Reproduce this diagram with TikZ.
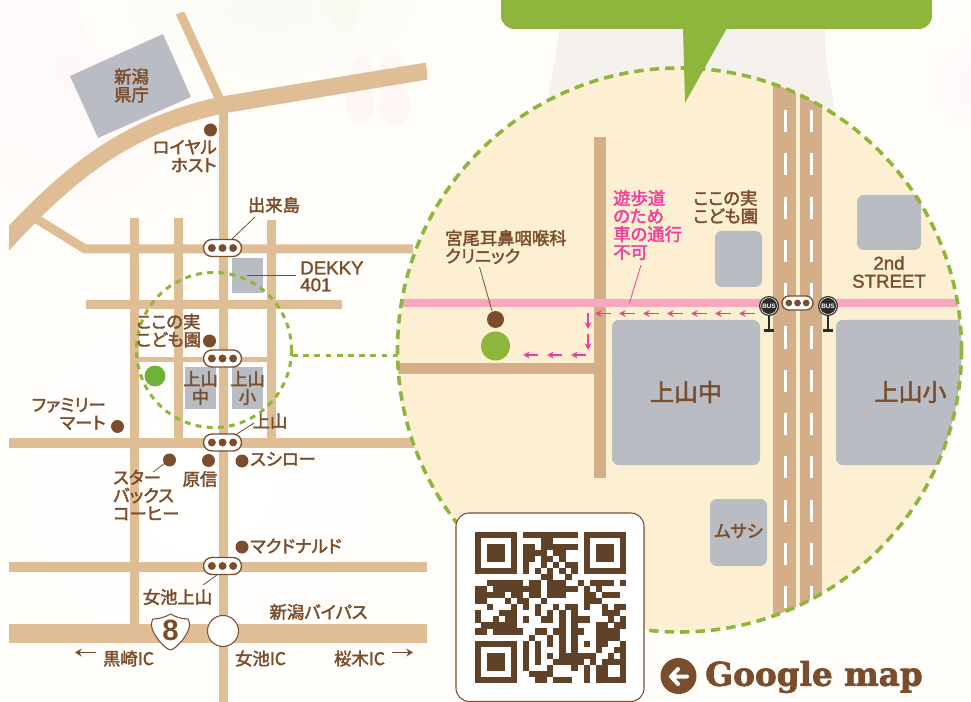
\documentclass[tikz,border=0pt]{standalone}
\usepackage{fontspec}
\usetikzlibrary{arrows.meta}
\newfontfamily\jp[FakeBold=2.2,RawFeature={+palt}]{Noto Sans CJK JP}
\newfontfamily\lat[FakeBold=1.6]{Liberation Sans}
\newfontfamily\latb{Liberation Sans Bold}
\newfontfamily\slab[FakeBold=2.2]{DejaVu Serif Bold}
\definecolor{bg}{HTML}{FFFDF9}
\definecolor{roadL}{HTML}{DFBD95}
\definecolor{roadB}{HTML}{D3AE86}
\definecolor{gbox}{HTML}{B9BCC2}
\definecolor{brn}{HTML}{7A4E2D}
\definecolor{qrc}{HTML}{5F4227}
\definecolor{grn}{HTML}{8FB63C}
\definecolor{grnb}{HTML}{6FB23A}
\definecolor{cream}{HTML}{FDF0D2}
\definecolor{pinkr}{HTML}{F7A8BF}
\definecolor{pinkt}{HTML}{EE3F9A}
\definecolor{busk}{HTML}{2B2B2B}
\definecolor{bgpink}{HTML}{FFF8F9}
\definecolor{bggreen}{HTML}{F9FBF4}
\definecolor{flpink}{HTML}{FEF6F5}
\definecolor{flgreen}{HTML}{F8FAEE}
\definecolor{bgmag}{HTML}{FDF5FA}
\definecolor{tree}{HTML}{F5F2EE}
\tikzset{
 rd/.style={draw=roadL,line width=#1*0.75pt,line cap=butt},
 rb/.style={draw=roadB,line width=#1*0.75pt,line cap=butt},
 gb/.style={fill=gbox},
 dot/.style={fill=brn},
 lab/.style={text=brn,font=\jp\fontsize{13}{13.5}\selectfont,inner sep=0pt,align=#1},
 lab/.default=center,
 pk/.style={text=pinkt,font=\jp\fontsize{13}{13.5}\selectfont,inner sep=0pt,align=left},
 lead/.style={draw=brn,line width=0.6pt},
 parr/.style={draw=pinkt,line width=0.85pt,-{Stealth[length=5pt,width=5pt]}},
 harr/.style={draw=brn,line width=1pt,-{Stealth[length=5pt,width=6pt]}},
 qr/.style={fill=qrc},
 dashbig/.style={draw=grn,line width=2.7pt,dash pattern=on 7pt off 4.6pt},
 dashsm/.style={draw=grn,line width=2.3pt,dash pattern=on 4.4pt off 4pt},
}
\newcount\qrx \newcount\qry
\def\qrscan#1{\ifx#1\relax\else\if1#1\fill[qr] ({475+6.03*\the\qrx},{532+6.03*\the\qry}) rectangle +(6.1,6.1);\fi\advance\qrx1 \expandafter\qrscan\fi}
\def\qrrow#1{\qrx=0 \qrscan#1\relax \advance\qry1 }
\def\sig#1#2#3#4#5{% x y w h r
 \draw[brn,fill=white,line width=1pt,rounded corners=#4*0.37pt] ({#1-#3/2},{#2-#4/2}) rectangle ({#1+#3/2},{#2+#4/2});
 \fill[brn] ({#1-#3*0.28},#2) circle (#5) ({#1},#2) circle (#5) ({#1+#3*0.28},#2) circle (#5);}
\def\bussign#1{%
 \draw[busk,line width=2pt] (#1,306) -- (#1,330);
 \draw[busk,line width=2.4pt] (#1-5,330.5) -- (#1+5,330.5);
 \fill[busk] (#1,306) circle (10);
 \draw[white,line width=.45pt] (#1,306) circle (8.4);
 \node[text=white,font=\latb\fontsize{4.8}{5}\selectfont,inner sep=0pt] at (#1,306) {BUS};}
\begin{document}
\begin{tikzpicture}[x=.75pt,y=-.75pt]
\useasboundingbox (0,0) rectangle (971,702);
\begin{scope}
\clip (0,0) rectangle (971,702);
\fill[bg] (0,0) rectangle (971,702);
% faint background
\shade[inner color=white,outer color=bg] (200,480) circle (300);
\shade[inner color=bgpink,outer color=bg] (70,70) circle (190);
\shade[inner color=bggreen,outer color=bg] (270,10) ellipse (190 and 90);
\fill[flpink] (362,78) ellipse (12 and 22) (392,78) ellipse (14 and 24) (360,103) ellipse (14 and 20) (395,105) ellipse (16 and 20);
\fill[flgreen] (340,6) ellipse (20 and 12) (345,22) ellipse (12 and 10);
\shade[inner color=bgmag,outer color=bg] (975,85) circle (50);
\fill[tree] (560,28) -- (825,28) -- (826,60) -- (835,110) -- (545,110) -- (553,70) -- cycle;
\end{scope}
% left map roads
\begin{scope}
\clip (9,13) rectangle (427,702);
\draw[rd=9] (223.5,702) -- (223.5,100);
\draw[rd=9] (180,13) -- (220,100);
\draw[rd=9] (35,218) -- (85,249) -- (413,249);
\draw[rd=17] (0,248) .. controls (70,170) and (130,125) .. (222,105) -- (427,71);
\draw[rd=9] (134,218) -- (134,630);
\draw[rd=9] (178,218) -- (178,442);
\draw[rd=9] (271.5,220) -- (271.5,442);
\draw[rd=9] (86,304.5) -- (342,304.5);
\draw[rd=5] (134,359.5) -- (271,359.5);
\draw[rd=10] (9,443) -- (420,443);
\draw[rd=10] (9,567) -- (427,567);
\draw[rd=19] (9,633.5) -- (427,633.5);
\end{scope}
\fill[gb] (70,76) -- (163,34) -- (191,97) -- (98,138) -- cycle;
\draw[white,line width=1pt,fill=gbox] (231,257) rectangle (264,294);
\draw[white,line width=1pt,fill=gbox] (184,366) rectangle (217,410);
\draw[white,line width=1pt,fill=gbox] (231,366) rectangle (264,410);
% small circle + link
\draw[dashsm] (214,350) circle (77.5);
\draw[dashsm] (292,355.5) -- (398,355.5);
\fill[grnb] (155,376) circle (10.5);
% dots
\fill[dot] (210.5,130) circle (6.5);
\fill[dot] (209.5,341) circle (6.5);
\fill[dot] (117.5,426.5) circle (6.5);
\fill[dot] (169.5,460) circle (6.5);
\fill[dot] (208.5,460.5) circle (6.5);
\fill[dot] (242,461) circle (6.5);
\fill[dot] (242,547) circle (6.5);
% leaders
\coordinate (l1a) at (232,239); \coordinate (l1b) at (255,217);
\coordinate (l2a) at (247,275); \coordinate (l2b) at (296,275);
\coordinate (l3a) at (237,434); \coordinate (l3b) at (254,423);
\coordinate (l4a) at (153,472); \coordinate (l4b) at (165,463);
\coordinate (l5a) at (203,585); \coordinate (l5b) at (217,575);
\draw[lead] (l1a) -- (l1b);
\draw[lead] (l2a) -- (l2b);
\draw[lead] (l3a) -- (l3b);
\draw[lead] (l4a) -- (l4b);
\draw[lead] (l5a) -- (l5b);
% signals
\sig{222.5}{248}{38}{17}{4}
\sig{222.5}{358.5}{38}{17}{4}
\sig{222.5}{442.5}{38}{17}{4}
\sig{222.5}{566}{38}{17}{4}
% shield + junction
\draw[brn,fill=white,line width=.8pt,line join=round] (153,619) .. controls (160,619) and (165,617) .. (170.5,614) .. controls (176,617) and (181,619) .. (188,619) .. controls (190,622) and (190,627) .. (188,631) .. controls (185,638) and (178,646) .. (173,649) .. controls (171.5,650.3) and (169.5,650.3) .. (168,649) .. controls (163,646) and (156,638) .. (153,631) .. controls (151,627) and (151,622) .. (153,619) -- cycle;
\node[text=brn,font=\latb\fontsize{22}{22}\selectfont,inner sep=0pt] (n8) at (170.5,630.5) {8};
\draw[brn,fill=white,line width=.8pt] (223,631) circle (15.5);
% left labels
\node[lab] (t1) at (131.5,85.5) {新潟\\県庁};
\node[lab=right,anchor=east] (t2) at (217,156) {ロイヤル\\ホスト};
\node[lab] (t3) at (274,205) {出来島};
\node[text=brn,font=\lat\fontsize{14}{12.75}\selectfont,inner sep=0pt,align=left,anchor=west] (t4) at (300,276.5) {DEKKY\\401};
\node[lab=left,anchor=west] (t5) at (136,330.5) {ここの実\\こども園};
\node[lab] (t6) at (200.5,388) {上山\\中};
\node[lab] (t7) at (247.5,388) {上山\\小};
\node[lab=right,anchor=east] (t8) at (106,414) {ファミリー\\マート};
\node[lab] (t9) at (270,421) {上山};
\node[lab=left,anchor=west] (t10) at (113,495) {スター\\バックス\\コーヒー};
\node[lab] (t11) at (200,479) {原信};
\node[lab,anchor=west] (t12) at (250,459) {スシロー};
\node[lab,anchor=west] (t13) at (250,546) {マクドナルド};
\node[lab] (t14) at (177.5,597) {女池上山};
\node[lab] (t15) at (318.5,612) {新潟バイパス};
\node[lab] (t16) at (128.5,658.5) {黒崎IC};
\node[lab] (t17) at (260.5,658.5) {女池IC};
\node[lab] (t18) at (359.5,658.5) {桜木IC};
\coordinate (a1a) at (96,652.5); \coordinate (a1b) at (75,652.5);
\coordinate (a2a) at (392,652.5); \coordinate (a2b) at (413,652.5);
\draw[harr] (a1a) -- (a1b);
\draw[harr] (a2a) -- (a2b);
% big circle
\fill[cream] (679.5,350) circle (282);
\begin{scope}
\clip (679.5,350) circle (282);
\draw[rb=11] (398,368) -- (606,368);
\draw[rb=12] (600,137) -- (600,478);
\draw[draw=pinkr,line width=6pt] (398,303) -- (961,303);
\draw[rb=22.5] (784.5,60) -- (784.5,640);
\draw[rb=22] (811,60) -- (811,640);
\foreach \k in {0,...,12}{
 \fill[white] (783.5,{110+43.3*\k}) rectangle +(3,22);
 \fill[white] (809.5,{110+43.3*\k}) rectangle +(3,22);
}
\fill[gbox,rounded corners=5pt] (612,320) rectangle (760,465);
\fill[gbox,rounded corners=5pt] (836,320) rectangle (975,465);
\end{scope}
\fill[gbox,rounded corners=5pt] (715,231) rectangle (762,287);
\fill[gbox,rounded corners=5pt] (857,195) rectangle (921,250);
\fill[gbox,rounded corners=5pt] (710,499) rectangle (767,566);
\draw[dashbig] (679.5,350) circle (282);
% callout
\fill[grn,rounded corners=10pt] (501,-30) rectangle (932,29);
\fill[grn] (683,28) -- (685,103) -- (727,28) -- cycle;
% right contents
\coordinate (r1a) at (479.5,267); \coordinate (r1b) at (492,311);
\draw[lead] (r1a) -- (r1b);
\fill[dot] (495.5,319.5) circle (8.5);
\fill[grn] (495.5,346) circle (14.5);
\coordinate (r2a) at (641,265); \coordinate (r2b) at (629.5,303);
\draw[draw=pinkt,line width=.6pt] (r2a) -- (r2b);
\foreach \xa/\xb in {611/595,635/619,659/643,683/667,707/691,731/715,755/739}{
 \draw[parr] (\xa,313.5) -- (\xb,313.5);
}
\draw[parr] (588,313) -- (588,329);
\draw[parr] (588,334) -- (588,350);
\foreach \xa/\xb in {586/571,562/547,538/523}{
 \draw[parr] (\xa,355) -- (\xb,355);
}
\node[lab=left,anchor=west] (t20) at (445,247) {宮尾耳鼻咽喉科\\クリニック};
\node[pk,anchor=west] (t21) at (613,225) {遊歩道\\のため\\車の通行\\不可};
\node[lab=left,anchor=west] (t22) at (693,207) {ここの実\\こども園};
\node[text=brn,font=\lat\fontsize{14}{13.5}\selectfont,inner sep=0pt,align=center] (t23) at (889,272) {2nd\\STREET};
\node[text=brn,font=\jp\fontsize{18}{18}\selectfont,inner sep=0pt] (t24) at (686,392) {上山中};
\node[text=brn,font=\jp\fontsize{18}{18}\selectfont,inner sep=0pt] (t25) at (910.5,392) {上山小};
\node[lab] (t26) at (738.5,531) {ムサシ};
\bussign{769}
\bussign{828}
\sig{797.5}{303}{31}{14}{3.4}
% QR card
\draw[brn,line width=.8pt,fill=white,rounded corners=10pt] (456,513) rectangle (644,701.5);
\qry=0
\qrrow{1111111011111111101111111}
\qrrow{1000001000011000001000001}
\qrrow{1011101011011111101011101}
\qrrow{1011101011110110001011101}
\qrrow{1011101011011010001011101}
\qrrow{1000001010010101101000001}
\qrrow{1111111010101010101111111}
\qrrow{0000000000011001000000000}
\qrrow{0011111101101110010111101}
\qrrow{1101111111101111101010000}
\qrrow{1111101101101110001101110}
\qrrow{1100010110010000001110000}
\qrrow{0010001010100101101001011}
\qrrow{1000111000101010100001110}
\qrrow{1001011010011010111000101}
\qrrow{0111111000000010100011011}
\qrrow{1101111100110110110011110}
\qrrow{0000000001001010100011110}
\qrrow{1111111010101010101011001}
\qrrow{1000001010100010100010011}
\qrrow{1011101010101011111100101}
\qrrow{1011101010100111110101111}
\qrrow{1011101010001000101011001}
\qrrow{1000001001111000001011001}
\qrrow{1111111000110111001011111}
% google map
\fill[brn] (678.5,676) circle (18);
\coordinate (ga) at (687,676.5); \coordinate (gb) at (671,676.5);
\coordinate (gc) at (678,669); \coordinate (gd) at (678,684);
\draw[white,line width=3pt,line cap=round,line join=round] (ga) -- (gb) (gc) -- (gb) -- (gd);
\node[text=brn,font=\slab\fontsize{24.5}{24}\selectfont,inner sep=0pt,anchor=west] (t30) at (705,677) {Google map};
\end{tikzpicture}
\end{document}
